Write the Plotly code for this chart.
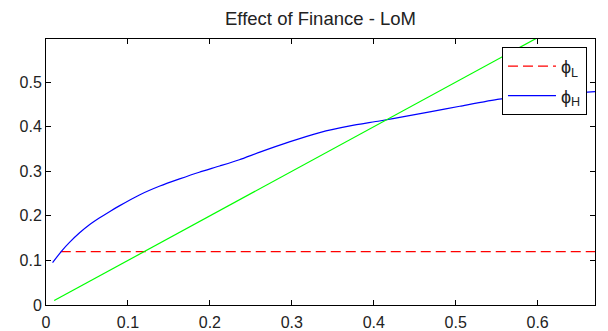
import plotly.graph_objects as go

# Data
blue_x = [0.008, 0.019, 0.029, 0.041, 0.053, 0.065, 0.078, 0.09, 0.114, 0.139, 0.163, 0.187, 0.212,
          0.236, 0.261, 0.297, 0.334, 0.371, 0.407, 0.44, 0.47, 0.505, 0.553, 0.60, 0.67]
blue_y = [0.095, 0.121, 0.141, 0.162, 0.180, 0.195, 0.210, 0.223, 0.247, 0.267, 0.283, 0.298, 0.312,
          0.326, 0.343, 0.366, 0.387, 0.402, 0.413, 0.424, 0.434, 0.446, 0.462, 0.471, 0.479]
red_x = [0.018, 0.67]
red_y = [0.12, 0.12]
green_x = [0.01, 0.67]
green_y = [0.01, 0.67]

x_ticks = [0, 0.1, 0.2, 0.3, 0.4, 0.5, 0.6]
x_labels = ["0", "0.1", "0.2", "0.3", "0.4", "0.5", "0.6"]
y_ticks = [0, 0.1, 0.2, 0.3, 0.4, 0.5]
y_labels = ["0", "0.1", "0.2", "0.3", "0.4", "0.5"]

title_text = "Effect of Finance - LoM"
FONT = "Arial, Liberation Sans, sans-serif"

fig = go.Figure()
fig.add_trace(go.Scatter(x=red_x, y=red_y, mode="lines", name="ϕ<sub>L</sub>",
                         line=dict(color="#ff0000", width=1.2, dash="10px,5px"),
                         legendgroup="a"))
fig.add_trace(go.Scatter(x=blue_x, y=blue_y, mode="lines", name="ϕ<sub>H</sub>",
                         line=dict(color="#0000ff", width=1.2, shape="spline", smoothing=0.6),
                         legendgroup="b"))
fig.add_trace(go.Scatter(x=green_x, y=green_y, mode="lines", showlegend=False,
                         line=dict(color="#00ff00", width=1.2)))

axis_common = dict(
    showgrid=False, zeroline=False, showline=True, linecolor="#000000", linewidth=1,
    mirror="ticks", ticks="inside", ticklen=5, tickcolor="#000000", tickwidth=1,
    automargin=False,
    tickfont=dict(family=FONT, size=16, color="#222222"),
)

fig.update_layout(
    width=608, height=331,
    margin=dict(l=46, r=13, t=39, b=26),
    paper_bgcolor="white", plot_bgcolor="white",
    title=dict(text=title_text, x=0.5, xref="paper", y=0.943, yanchor="middle",
               automargin=False,
               font=dict(family=FONT, size=18.5, color="#222222")),
    xaxis=dict(range=[0, 0.67], tickvals=x_ticks, ticktext=x_labels,
               ticklabelstandoff=3, **axis_common),
    yaxis=dict(range=[0, 0.597], tickvals=y_ticks, ticktext=y_labels, **axis_common),
    legend=dict(x=0.9854, y=0.970, xanchor="right", yanchor="top",
                bgcolor="white", bordercolor="#000000", borderwidth=1,
                tracegroupgap=3, itemwidth=48,
                font=dict(family=FONT, size=18, color="#222222")),
    showlegend=True,
)

fig.write_html("out.html")
